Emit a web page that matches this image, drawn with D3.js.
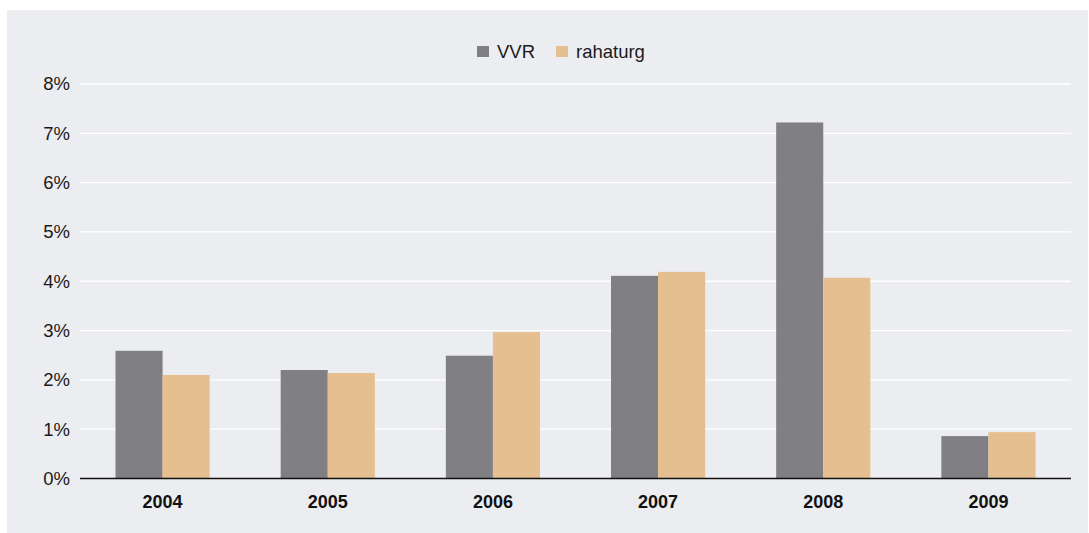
<!DOCTYPE html>
<html>
<head>
<meta charset="utf-8">
<script src="https://cdn.jsdelivr.net/npm/d3@7"></script>
<style>
  body { margin: 0; background: #ffffff; }
  text { font-family: "Liberation Sans", Arial, sans-serif; }
</style>
</head>
<body>
<script>
const years = ["2004", "2005", "2006", "2007", "2008", "2009"];
const vvr = [2.59, 2.2, 2.49, 4.11, 7.22, 0.86];
const rahaturg = [2.1, 2.14, 2.97, 4.19, 4.07, 0.94];
const seriesNames = ["VVR", "rahaturg"];
const seriesColors = ["#807f83", "#e5bf90"];
const yTicks = [0, 1, 2, 3, 4, 5, 6, 7, 8];

const width = 1089, height = 533;
const svg = d3.select("body").append("svg")
   .attr("width", width)
   .attr("height", height);

// panel background
svg.append("rect")
   .attr("x", 7)
   .attr("y", 10)
   .attr("width", width - 8)
   .attr("height", height - 10)
   .attr("fill", "#ecedf0");

const plotLeft = 80, plotRight = 1071, plotTop = 84, plotBottom = 478.5;

const x = d3.scaleBand()
   .domain(years)
   .range([plotLeft, plotRight])
   .paddingInner(0.43)
   .paddingOuter(0.215);

const xSub = d3.scaleBand()
   .domain(seriesNames)
   .range([0, x.bandwidth()]);

const y = d3.scaleLinear()
   .domain([0, 8])
   .range([plotBottom, plotTop]);

// grid lines
svg.selectAll(".grid")
   .data(yTicks.filter(d => d > 0))
   .enter()
   .append("line")
   .attr("x1", plotLeft)
   .attr("x2", plotRight)
   .attr("y1", d => y(d))
   .attr("y2", d => y(d))
   .attr("stroke", "#ffffff")
   .attr("stroke-width", 1.3);

// y axis labels
const yAxis = svg.append("g")
   .attr("transform", `translate(${plotLeft},0)`)
   .call(d3.axisLeft(y).tickValues(yTicks).tickFormat(d => d + "%").tickSize(0).tickPadding(10));
yAxis.select(".domain").remove();
yAxis.selectAll("text")
   .attr("font-size", 18.5)
   .attr("fill", "#1a1a1a")
   .style("font-family", "'Liberation Sans', Arial, sans-serif");

// bars
const rows = years.map((yr, i) => ({ year: yr, values: [vvr[i], rahaturg[i]] }));

const groups = svg.selectAll(".group")
   .data(rows)
   .enter()
   .append("g")
   .attr("transform", d => `translate(${x(d.year)},0)`);

groups.selectAll("rect")
   .data(d => d.values.map((v, j) => ({ name: seriesNames[j], value: v, color: seriesColors[j] })))
   .enter()
   .append("rect")
   .attr("x", d => xSub(d.name))
   .attr("width", xSub.bandwidth())
   .attr("y", d => y(d.value))
   .attr("height", d => y(0) - y(d.value))
   .attr("fill", d => d.color);

// x axis
const xAxis = svg.append("g")
   .attr("transform", `translate(0,${plotBottom})`)
   .call(d3.axisBottom(x).tickSize(0).tickPadding(17));
xAxis.select(".domain")
   .attr("stroke", "#111111")
   .attr("stroke-width", 1.6)
   .attr("d", `M${plotLeft},0H${plotRight}`);
xAxis.selectAll("text")
   .attr("font-size", 18)
   .attr("font-weight", "bold")
   .attr("fill", "#111111")
   .style("font-family", "'Liberation Sans', Arial, sans-serif");

// legend
const legend = svg.append("g")
   .attr("transform", "translate(477,51)");
const legendX = [0, 79];
const items = legend.selectAll("g")
   .data(seriesNames)
   .enter()
   .append("g")
   .attr("transform", (d, i) => `translate(${legendX[i]},0)`);
items.append("rect")
   .attr("x", 0)
   .attr("y", -5)
   .attr("width", 12)
   .attr("height", 11)
   .attr("fill", (d, i) => seriesColors[i]);
items.append("text")
   .attr("x", 20)
   .attr("y", 6.5)
   .attr("font-size", 18.5)
   .attr("fill", "#1a1a1a")
   .text(d => d);
</script>
</body>
</html>
